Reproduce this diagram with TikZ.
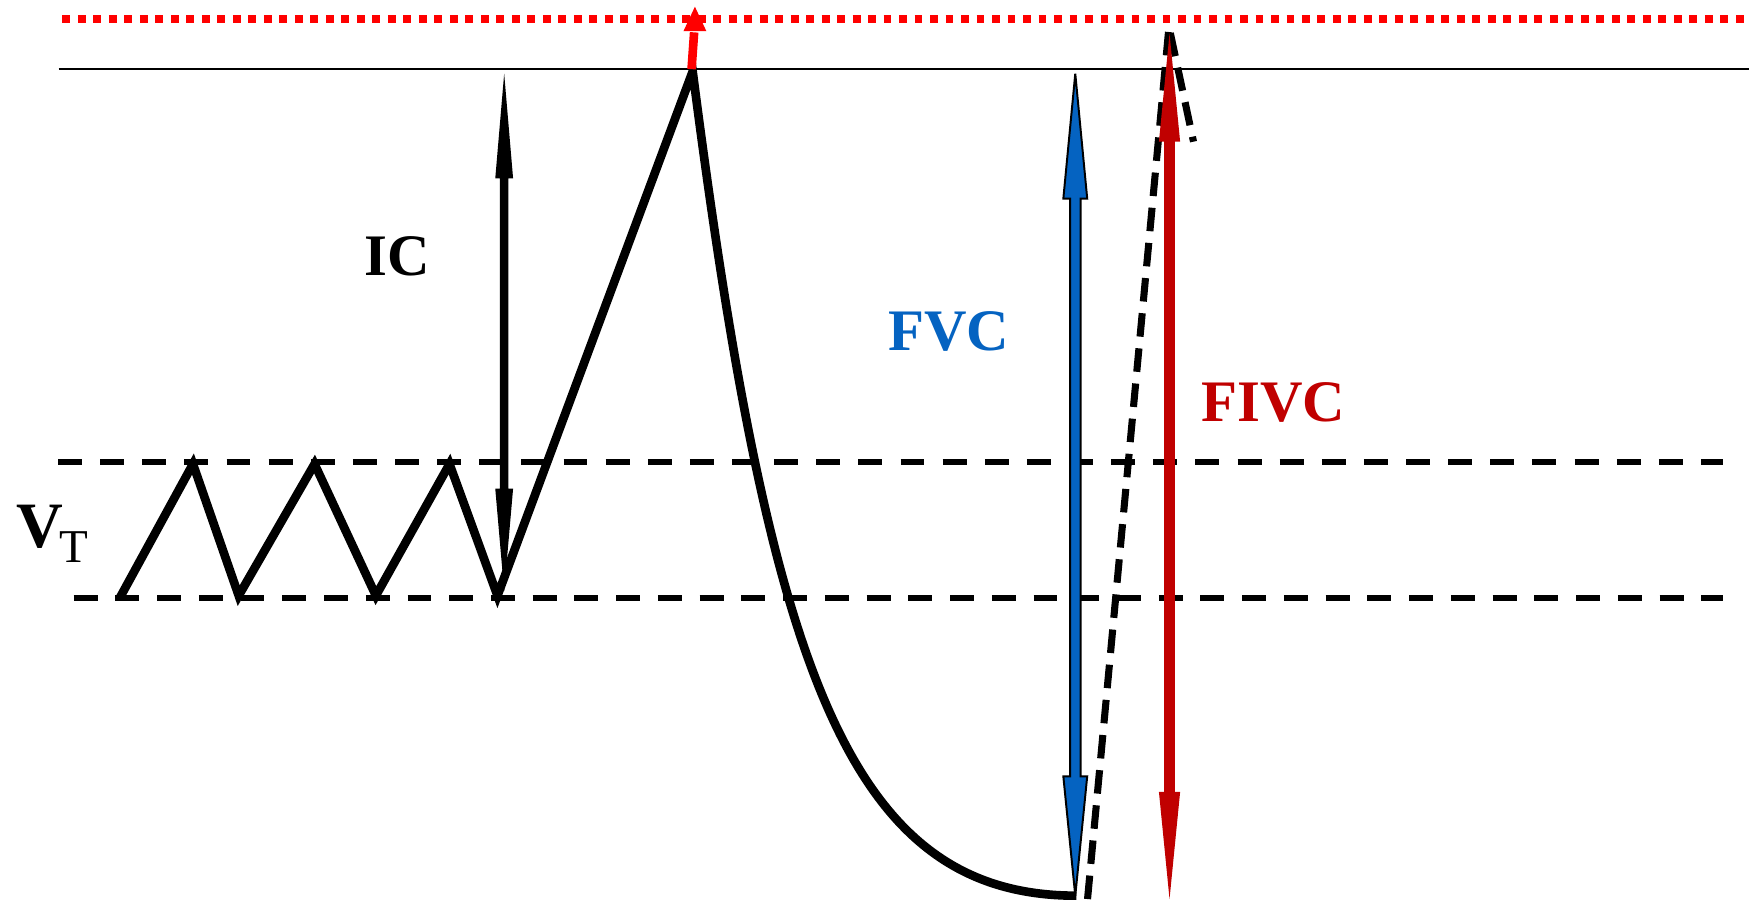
\documentclass[tikz,border=0pt]{standalone}
\usepackage{fontspec}
\setmainfont{Liberation Serif}
\usetikzlibrary{arrows.meta}
\definecolor{fvcblue}{RGB}{5,99,193}
\definecolor{fivcred}{RGB}{192,0,0}
\newcommand{\vdarrow}[8]{\path[#1] (#2,#3) -- ({#2+#7},{#3+#5}) -- ({#2+#8},{#3+#5}) -- ({#2+#8},{#4-#6}) -- ({#2+#7},{#4-#6}) -- (#2,#4) -- ({#2-#7},{#4-#6}) -- ({#2-#8},{#4-#6}) -- ({#2-#8},{#3+#5}) -- ({#2-#7},{#3+#5}) -- cycle;}
\tikzset{
  lbl/.style={inner sep=0pt, font=\bfseries\fontsize{15pt}{18pt}\selectfont},
  hdash/.style={line width=1.6pt},
  sdash/.style={line width=1.8pt, dash pattern=on 6pt off 3pt},
  trace/.style={line width=2.2pt, line join=miter},
}
\begin{document}
\begin{tikzpicture}[x=0.01cm,y=-0.01cm]
\useasboundingbox (0,0) rectangle (1568,806);
% reference lines
\draw[red, line width=2pt, dash pattern=on 2pt off 1.95pt] (56,17) -- (1568,17);
\draw[line width=0.6pt] (52.5,62) -- (1568,62);
\draw[hdash, dash pattern=on 6.1pt off 4.64pt] (52,414) -- (1545,414);
\draw[hdash, dash pattern=on 6.1pt off 4.54pt] (66,536) -- (1545,536);
% coordinates
\coordinate (peak) at (621,64);
\coordinate (redbase) at (620,62);
\coordinate (redhead) at (622.3,29);
\coordinate (redtip) at (623,6);
\coordinate (bottom) at (965,803);
% tidal breathing and manoeuvre
\draw[trace] (107.4,536) -- (173,416) -- (214,534) -- (282,416) -- (337,534) -- (403,416) -- (446,534) -- (peak)
  .. controls (690,600) and (760,803) .. (bottom);
% dashed inspiration
\draw[sdash] (975,806) -- (1048,24) -- (1070,127);
% arrows
\vdarrow{fill=black}{452}{66}{530}{94}{92}{8}{3.8}
\vdarrow{fill=fvcblue, draw=black, line width=0.5pt}{964}{66}{803}{112}{107}{10.7}{4.7}
\vdarrow{fill=fivcred}{1048.5}{30}{806}{97}{96}{9.5}{4.8}
\draw[red, line width=2.2pt] (redbase) -- (redhead);
\fill[red] (redtip) -- (633.3,28) -- (612.7,28) -- cycle;
% labels
\node[lbl, anchor=base] (ic) at (356.5,247) {IC};
\node[lbl, anchor=base, text=fvcblue] (fvc) at (850.5,314) {FVC};
\node[lbl, anchor=base, text=fivcred] (fivc) at (1141.5,378) {FIVC};
\node[inner sep=0pt, anchor=base west, font=\bfseries\fontsize{16.5pt}{19pt}\selectfont] (v) at (14,491) {V};
\node[inner sep=0pt, anchor=base west, font=\fontsize{12pt}{14pt}\selectfont] (t) at (53,504) {T};
\end{tikzpicture}
\end{document}
